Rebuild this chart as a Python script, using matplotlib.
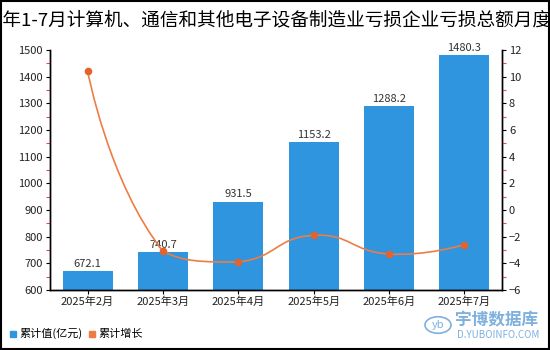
import matplotlib
matplotlib.use("Agg")
import matplotlib.pyplot as plt
import numpy as np
from matplotlib.path import Path
from matplotlib.patches import PathPatch, Rectangle, Circle
from matplotlib.ticker import MultipleLocator

plt.rcParams['font.family'] = ['Noto Sans CJK SC', 'DejaVu Sans']

months = ["2025年2月", "2025年3月", "2025年4月", "2025年5月", "2025年6月", "2025年7月"]
values = [672.1, 740.7, 931.5, 1153.2, 1288.2, 1480.3]
growth = [10.4, -3.1, -3.9, -1.9, -3.3, -2.6]
title = "2025年1-7月计算机、通信和其他电子设备制造业亏损企业亏损总额月度统计"

BAR = "#2E95DE"
LINE = "#EE7D45"
DOT = "#E4632C"

fig = plt.figure(figsize=(5.5, 3.5), dpi=100)
ax = fig.add_axes([50 / 550, 1 - 290 / 350, 452 / 550, 240 / 350])
ax2 = ax.twinx()

x = np.arange(len(months))
ax.bar(x, values, width=0.66, color=BAR, zorder=2)
for xi, v in zip(x, values):
    ax.text(xi, v + 8, f"{v:.1f}", ha="center", va="bottom", fontsize=8, color="#333333")

ax.set_xlim(-0.5, len(months) - 0.5)
ax.set_ylim(600, 1500)
ax.yaxis.set_major_locator(MultipleLocator(100))
ax.yaxis.set_minor_locator(MultipleLocator(50))
ax.set_xticks(x)
ax.set_xticklabels(months)

ax2.set_ylim(-6, 12)
ax2.yaxis.set_major_locator(MultipleLocator(2))
ax2.yaxis.set_minor_locator(MultipleLocator(1))

for a in (ax, ax2):
    a.spines["top"].set_visible(False)
    for s in a.spines.values():
        s.set_linewidth(1.0)
    a.tick_params(axis="both", which="major", labelsize=8, length=3, width=0.8,
                  colors="black", labelcolor="#222222", pad=2)
    a.tick_params(axis="y", which="minor", length=3, width=0.8, color="#E05050")
ax.tick_params(axis="x", labelsize=8)

# smoothed growth line, echarts-style bezier with control points kept
# inside the data's bounding box
fig.canvas.draw()
pts = ax2.transData.transform(np.column_stack([x, growth]))
lo, hi = pts.min(axis=0), pts.max(axis=0)
smooth = 0.5
n = len(pts)
cps = []
for i in range(n):
    p = pts[i]
    if i == 0 or i == n - 1:
        cps.append((p, p))
        continue
    prev, nxt = pts[i - 1], pts[i + 1]
    v = (nxt - prev) * smooth
    d0 = np.hypot(*(p - prev))
    d1 = np.hypot(*(nxt - p))
    c0 = np.clip(p - v * d0 / (d0 + d1), lo, hi)
    c1 = np.clip(p + v * d1 / (d0 + d1), lo, hi)
    cps.append((c0, c1))
verts = [pts[0]]
codes = [Path.MOVETO]
for i in range(n - 1):
    verts += [cps[i][1], cps[i + 1][0], pts[i + 1]]
    codes += [Path.CURVE4] * 3
inv = ax2.transData.inverted()
path = Path(inv.transform(np.array(verts)), codes)
ax2.add_patch(PathPatch(path, facecolor="none", edgecolor=LINE, lw=1.2, zorder=3))
ax2.plot(x, growth, linestyle="none", marker="o", ms=4.5, color=DOT, zorder=4)

# title is wider than the image, as in the reference
fig.text(0.5, 1 - 20 / 350, title, ha="center", va="center", fontsize=13.4, color="black")

# legend
fig.patches.append(Rectangle((10 / 550, 1 - 336.5 / 350), 6 / 550, 6 / 350,
                             transform=fig.transFigure, color=BAR))
fig.text(19 / 550, 1 - 333.5 / 350, "累计值(亿元)", fontsize=8, va="center")
fig.patches.append(Rectangle((89 / 550, 1 - 336.5 / 350), 6 / 550, 6 / 350,
                             transform=fig.transFigure, color=LINE))
fig.text(98 / 550, 1 - 333.5 / 350, "累计增长", fontsize=8, va="center")

# watermark
wm = "#7FB0DE"
fig.patches.append(Circle((438 / 550, 1 - 325 / 350), 13 / 550, transform=fig.transFigure,
                          facecolor="none", edgecolor=wm, lw=1.2))
fig.text(438 / 550, 1 - 325 / 350, "yb", fontsize=8, color=wm, ha="center", va="center",
         style="italic")
fig.text(455 / 550, 1 - 320 / 350, "宇博数据库", fontsize=12, color=wm, va="center",
         fontweight="bold")
fig.text(457 / 550, 1 - 335 / 350, "D.YUBOINFO.COM", fontsize=7, color=wm, va="center")

fig.patches.append(Rectangle((0.001, 0.002), 0.997, 0.996, transform=fig.transFigure,
                             facecolor="none", edgecolor="black", lw=1.5))

fig.savefig("out.png", dpi=100)
